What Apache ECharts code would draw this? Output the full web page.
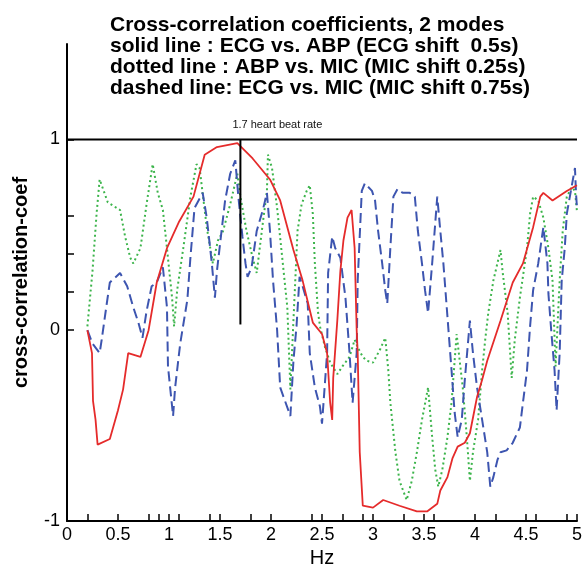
<!DOCTYPE html>
<html>
<head>
<meta charset="utf-8">
<script src="https://cdn.jsdelivr.net/npm/echarts@6/dist/echarts.min.js"></script>
<style>
  html, body { margin: 0; padding: 0; background: #fff; }
  #chart { width: 583px; height: 564px; }
</style>
</head>
<body>
<div id="chart"></div>
<script>
// Solid line: ECG vs. ABP (ECG shift 0.5 s)
const ecgAbpHz = [0.2, 0.245, 0.255, 0.28, 0.3, 0.42, 0.5, 0.55, 0.6, 0.72, 0.8, 0.88, 0.98, 1.1, 1.24, 1.35, 1.47, 1.67, 1.82, 1.99, 2.09, 2.22, 2.31, 2.41, 2.5, 2.55, 2.58, 2.6, 2.61, 2.65, 2.68, 2.71, 2.75, 2.79, 2.82, 2.84, 2.85, 2.87, 2.9, 3.0, 3.1, 3.26, 3.43, 3.53, 3.63, 3.66, 3.73, 3.78, 3.83, 3.9, 3.95, 4.02, 4.07, 4.12, 4.25, 4.37, 4.47, 4.57, 4.64, 4.67, 4.76, 4.9, 5.0];
const ecgAbpCoef = [0, -0.12, -0.37, -0.47, -0.6, -0.57, -0.42, -0.31, -0.12, -0.14, 0, 0.25, 0.43, 0.57, 0.7, 0.92, 0.96, 0.98, 0.9, 0.79, 0.68, 0.42, 0.26, 0.04, -0.02, -0.12, -0.38, -0.47, -0.25, 0.05, 0.31, 0.47, 0.59, 0.63, 0.43, 0, -0.12, -0.64, -0.92, -0.93, -0.89, -0.92, -0.95, -0.95, -0.91, -0.84, -0.77, -0.67, -0.61, -0.59, -0.54, -0.35, -0.26, -0.16, 0.05, 0.25, 0.35, 0.54, 0.7, 0.72, 0.68, 0.73, 0.76];

// Dotted line: ABP vs. MIC (MIC shift 0.25 s)
const abpMicHz = [0.2, 0.25, 0.29, 0.32, 0.4, 0.52, 0.57, 0.62, 0.65, 0.72, 0.78, 0.84, 0.89, 0.94, 0.98, 1.03, 1.05, 1.08, 1.14, 1.21, 1.27, 1.3, 1.37, 1.43, 1.48, 1.53, 1.6, 1.67, 1.7, 1.76, 1.82, 1.86, 1.91, 1.96, 1.97, 2.01, 2.06, 2.11, 2.16, 2.19, 2.22, 2.26, 2.3, 2.35, 2.38, 2.41, 2.43, 2.46, 2.48, 2.53, 2.58, 2.65, 2.7, 2.77, 2.82, 2.85, 2.9, 2.94, 3.0, 3.07, 3.12, 3.15, 3.17, 3.22, 3.26, 3.33, 3.38, 3.43, 3.48, 3.54, 3.58, 3.61, 3.64, 3.68, 3.73, 3.77, 3.82, 3.85, 3.88, 3.92, 3.95, 3.98, 4.03, 4.07, 4.1, 4.13, 4.18, 4.25, 4.27, 4.32, 4.36, 4.39, 4.44, 4.51, 4.54, 4.57, 4.62, 4.67, 4.72, 4.76, 4.79, 4.83, 4.86, 4.9, 4.95, 4.98, 5.0];
const abpMicCoef = [0.02, 0.31, 0.61, 0.79, 0.67, 0.63, 0.49, 0.38, 0.35, 0.43, 0.66, 0.87, 0.72, 0.63, 0.43, 0.17, 0.02, 0.21, 0.43, 0.7, 0.87, 0.85, 0.54, 0.35, 0.47, 0.52, 0.66, 0.82, 0.7, 0.52, 0.38, 0.3, 0.52, 0.73, 0.92, 0.85, 0.64, 0.38, 0.12, -0.31, 0.05, 0.52, 0.66, 0.73, 0.76, 0.61, 0.35, 0.1, 0.02, -0.09, -0.17, -0.23, -0.19, -0.14, -0.05, -0.09, -0.14, -0.16, -0.17, -0.1, -0.04, -0.21, -0.38, -0.64, -0.79, -0.89, -0.79, -0.64, -0.47, -0.3, -0.56, -0.73, -0.82, -0.73, -0.56, -0.38, -0.02, -0.16, -0.3, -0.56, -0.79, -0.64, -0.47, -0.21, -0.05, 0.09, 0.26, 0.42, 0.31, 0.09, -0.25, -0.05, 0.17, 0.43, 0.61, 0.7, 0.68, 0.59, 0.43, 0.26, -0.19, 0.26, 0.52, 0.7, 0.75, 0.73, 0.62];

// Dashed line: ECG vs. MIC (MIC shift 0.75 s)
const ecgMicHz = [0.2, 0.25, 0.32, 0.34, 0.39, 0.42, 0.52, 0.59, 0.65, 0.7, 0.74, 0.78, 0.83, 0.88, 0.94, 0.98, 0.99, 1.04, 1.06, 1.11, 1.18, 1.21, 1.25, 1.33, 1.37, 1.42, 1.45, 1.47, 1.5, 1.55, 1.6, 1.65, 1.68, 1.72, 1.75, 1.77, 1.81, 1.86, 1.92, 1.96, 1.99, 2.02, 2.06, 2.09, 2.19, 2.22, 2.25, 2.28, 2.31, 2.36, 2.38, 2.43, 2.48, 2.5, 2.55, 2.56, 2.6, 2.63, 2.68, 2.73, 2.77, 2.8, 2.84, 2.85, 2.89, 2.92, 2.99, 3.02, 3.05, 3.09, 3.12, 3.14, 3.17, 3.2, 3.24, 3.29, 3.36, 3.41, 3.44, 3.48, 3.51, 3.54, 3.58, 3.63, 3.66, 3.69, 3.73, 3.77, 3.8, 3.83, 3.87, 3.9, 3.95, 3.98, 4.02, 4.07, 4.12, 4.15, 4.18, 4.22, 4.25, 4.31, 4.37, 4.44, 4.47, 4.51, 4.54, 4.57, 4.62, 4.67, 4.71, 4.72, 4.75, 4.78, 4.8, 4.83, 4.85, 4.88, 4.9, 4.93, 4.96, 4.98, 4.99, 5.0];
const ecgMicCoef = [0, -0.07, -0.12, -0.05, 0.14, 0.25, 0.3, 0.23, 0.12, 0.04, -0.04, 0.1, 0.23, 0.25, 0.33, 0.12, -0.19, -0.45, -0.3, -0.07, 0.16, 0.38, 0.64, 0.72, 0.59, 0.35, 0.17, 0.31, 0.45, 0.68, 0.82, 0.89, 0.7, 0.49, 0.35, 0.28, 0.33, 0.52, 0.63, 0.72, 0.52, 0.26, 0, -0.3, -0.45, -0.16, 0.02, 0.28, 0.23, 0.14, -0.12, -0.3, -0.4, -0.49, -0.12, 0.3, 0.49, 0.43, 0.38, 0.17, -0.12, -0.38, -0.12, 0.26, 0.73, 0.77, 0.73, 0.68, 0.52, 0.35, 0.21, 0.14, 0.43, 0.7, 0.74, 0.72, 0.72, 0.7, 0.52, 0.35, 0.21, 0.09, 0.35, 0.7, 0.52, 0.35, 0.07, -0.21, -0.43, -0.56, -0.47, -0.26, 0.05, -0.12, -0.3, -0.47, -0.64, -0.82, -0.77, -0.68, -0.64, -0.63, -0.59, -0.51, -0.38, -0.21, 0.02, 0.21, 0.35, 0.54, 0.35, 0.19, -0.02, -0.21, -0.42, -0.12, 0.26, 0.43, 0.61, 0.7, 0.79, 0.85, 0.72, 0.64];

// Heart beat rate marker and reference level
const heartRateHz = 1.7;
const heartRateLabel = '1.7 heart beat rate';
const referenceLevel = 1;

// Axis ticks and labels
const xLabelValues = [0, 0.5, 1, 1.5, 2, 2.5, 3, 3.5, 4, 4.5, 5];
const xTickValues = [0.2, 0.5, 0.8, 0.9, 1.0, 1.1, 1.4, 1.5, 1.8, 2.0, 2.4, 2.5, 2.7, 2.9, 3.0, 3.3, 3.5, 3.6, 4.0, 4.2, 4.5, 4.6, 4.9, 5.0];
const yLabelValues = [-1, 0, 1];
const yTickValues = [-1, 0, 0.2, 0.4, 0.6, 1];

const titleLines = [
  'Cross-correlation coefficients, 2 modes',
  'solid line : ECG vs. ABP (ECG shift  0.5s)',
  'dotted line : ABP vs. MIC (MIC shift 0.25s)',
  'dashed line: ECG vs. MIC (MIC shift 0.75s)'
];

const zip = (xs, ys) => xs.map((x, i) => [x, ys[i]]);

const chart = echarts.init(document.getElementById('chart'), null, { renderer: 'canvas' });
const FONT = '"Liberation Sans", Arial, sans-serif';

chart.setOption({
  backgroundColor: '#fff',
  animation: false,
  graphic: [{
    type: 'text',
    left: 110,
    top: 15,
    z: 10,
    style: {
      text: titleLines.join('\n'),
      font: 'bold 21px ' + FONT,
      lineHeight: 21,
      fill: '#000'
    }
  }],
  grid: { left: 67, right: 6, top: 44, bottom: 43, containLabel: false, outerBoundsMode: 'none' },
  xAxis: {
    type: 'value',
    min: 0, max: 5, interval: 0.5,
    name: 'Hz',
    nameLocation: 'middle',
    nameGap: 22,
    nameTextStyle: { fontFamily: FONT, fontSize: 20, color: '#000' },
    axisLine: { onZero: false, lineStyle: { color: '#000', width: 2 } },
    axisTick: { inside: true, length: 7, customValues: xTickValues, lineStyle: { color: '#000', width: 1.5 } },
    axisLabel: { customValues: xLabelValues, margin: 5, fontFamily: FONT, fontSize: 18, color: '#000' },
    splitLine: { show: false }
  },
  yAxis: {
    type: 'value',
    min: -1, max: 1.5, interval: 0.5,
    name: 'cross-correlation-coef',
    nameLocation: 'middle',
    nameGap: 36,
    nameRotate: 90,
    nameTextStyle: { fontFamily: FONT, fontSize: 20, fontWeight: 'bold', color: '#000' },
    axisLine: { show: true, onZero: false, lineStyle: { color: '#000', width: 2 } },
    axisTick: { show: true, inside: true, length: 7, customValues: yTickValues, lineStyle: { color: '#000', width: 1.5 } },
    axisLabel: { customValues: yLabelValues, margin: 7, fontFamily: FONT, fontSize: 18, color: '#000' },
    splitLine: { show: false }
  },
  series: [
    {
      name: 'reference',
      type: 'line',
      data: [[0, referenceLevel], [5, referenceLevel]],
      symbol: 'none',
      lineStyle: { color: '#000', width: 2 },
      z: 1
    },
    {
      name: 'ABP vs. MIC',
      type: 'line',
      data: zip(abpMicHz, abpMicCoef),
      symbol: 'none',
      lineStyle: { color: '#3cb44b', width: 2, type: [2, 3] },
      z: 2
    },
    {
      name: 'ECG vs. MIC',
      type: 'line',
      data: zip(ecgMicHz, ecgMicCoef),
      symbol: 'none',
      lineStyle: { color: '#3d55b0', width: 2, type: [10, 5] },
      z: 3
    },
    {
      name: 'ECG vs. ABP',
      type: 'line',
      data: zip(ecgAbpHz, ecgAbpCoef),
      symbol: 'none',
      lineStyle: { color: '#e52b2b', width: 1.8 },
      z: 4
    },
    {
      name: 'heart beat rate',
      type: 'line',
      data: [[heartRateHz, 0.03], [heartRateHz, referenceLevel]],
      symbol: 'none',
      lineStyle: { color: '#000', width: 2 },
      z: 5,
      endLabel: {
        show: true,
        formatter: heartRateLabel,
        position: 'right',
        distance: 5,
        align: 'left',
        verticalAlign: 'middle',
        offset: [-13, -14],
        fontFamily: FONT,
        fontSize: 11,
        color: '#111'
      }
    }
  ]
});
</script>
</body>
</html>
